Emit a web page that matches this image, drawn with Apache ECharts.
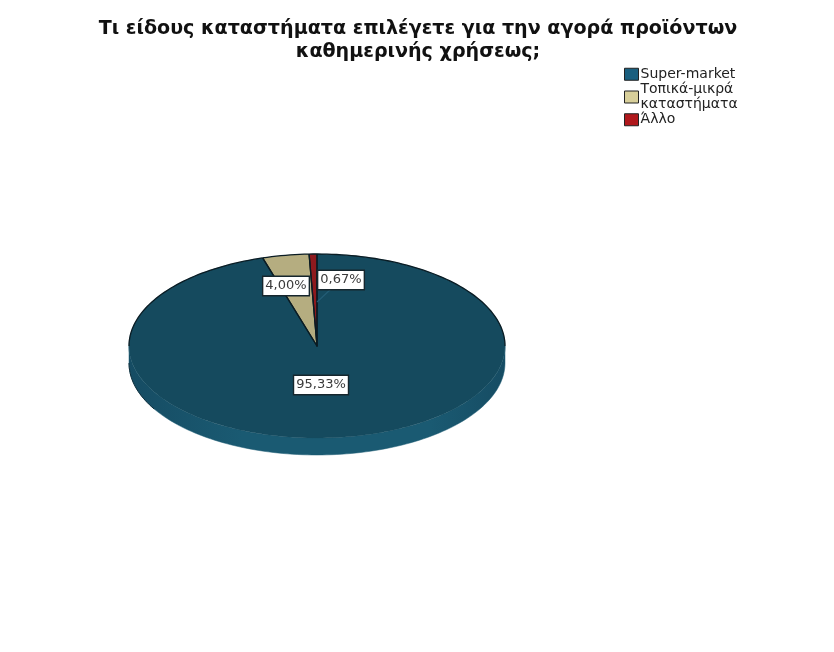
<!DOCTYPE html>
<html><head><meta charset="utf-8">
<style>html,body{margin:0;padding:0;background:#fff}#c{width:834px;height:652px}</style>
<script src="https://cdn.jsdelivr.net/npm/echarts@6/dist/echarts.min.js"></script></head>
<body><div id="c"></div>
<script>
const titleText = 'Τι είδους καταστήματα επιλέγετε για την αγορά προϊόντων\nκαθημερινής χρήσεως;';
const categories = ['Super-market', 'Τοπικά-μικρά\nκαταστήματα', 'Άλλο'];
const shares = [95.33, 4.00, 0.67];
const labelsText = ['95,33%', '4,00%', '0,67%'];
const topColors = ['#154a5e', '#b5ad80', '#8e1a1e'];
const wallColors = ['#1a5a72', '#8f8860', '#6e1416'];
const legendColors = ['#1a5f7f', '#d8cf9a', '#b0181c'];
const labelCenters = [[321, 385], [286, 286], [341, 280]];

const cx = 317, cy = 346, rx = 188, ry = 92, depth = 17;
const edge = '#0a1c24';
const total = shares.reduce((a, b) => a + b, 0);
const pt = (deg, dy) => {
  const a = deg * Math.PI / 180;
  return [cx + rx * Math.sin(a), cy - ry * Math.cos(a) + (dy || 0)];
};
const arc = (from, to, dy) => {
  const out = [];
  const n = Math.max(2, Math.ceil(Math.abs(to - from) / 1.5));
  for (let i = 0; i <= n; i++) out.push(pt(from + (to - from) * i / n, dy));
  return out;
};
function sliceRenderer(index) {
  return function (params, api) {
    const v = api.value(0);
    let before = 0;
    for (let i = 0; i < index; i++) before += shares[i];
    const from = before / total * 360, to = (before + v) / total * 360;
    const kids = [];
    const wf = Math.max(from, 90), wt = Math.min(to, 270);
    if (wt > wf) {
      kids.push({ type: 'polygon', z2: 1,
        shape: { points: arc(wf, wt, 0).concat(arc(wt, wf, depth)) },
        style: { fill: { type: 'linear', x: 0, y: 0, x2: 1, y2: 0, colorStops: [
          { offset: 0, color: '#164c63' }, { offset: 0.3, color: wallColors[index] },
          { offset: 0.8, color: wallColors[index] }, { offset: 1, color: '#164c63' }] },
          stroke: wallColors[index], lineWidth: 0.5 } });
      kids.push({ type: 'polyline', z2: 1,
        shape: { points: arc(270, 240, depth) },
        style: { fill: 'none', stroke: '#0f2d3a', lineWidth: 1 } });
    }
    kids.push({ type: 'polygon', z2: 2,
      shape: { points: [[cx, cy]].concat(arc(from, to, 0)) },
      style: { fill: topColors[index], stroke: topColors[index], lineWidth: 0.3 } });
    const rims = [];
    if (from < 90) rims.push(arc(from, Math.min(to, 90), 0));
    if (to > 270) rims.push(arc(Math.max(from, 270), to, 0));
    rims.forEach(r => kids.push({ type: 'polyline', z2: 3, shape: { points: r },
      style: { fill: 'none', stroke: edge, lineWidth: 1.3 } }));
    kids.push({ type: 'polyline', z2: 3, shape: { points: [pt(from), [cx, cy], pt(to)] },
      style: { fill: 'none', stroke: edge, lineWidth: 1.3, lineJoin: 'round' } });
    return { type: 'group', children: kids };
  };
}
function labelRenderer(index) {
  return function () {
    const c = labelCenters[index];
    const kids = [];
    if (index === 2) kids.push({ type: 'line', z2: 5,
      shape: { x1: cx, y1: 302, x2: c[0] - 10, y2: c[1] + 9 },
      style: { stroke: '#235d75', lineWidth: 1.2 } });
    kids.push({ type: 'text', z2: 6, x: c[0], y: c[1],
      style: { text: labelsText[index], fontFamily: 'DejaVu Sans', fontSize: 13, fill: '#3a3a3a',
        align: 'center', verticalAlign: 'middle', backgroundColor: '#fff',
        borderColor: '#16262d', borderWidth: 1.4, padding: [3, 2, 2, 2] } });
    return { type: 'group', children: kids };
  };
}
const chart = echarts.init(document.getElementById('c'), null, { renderer: 'canvas' });
const series = categories.map((name, i) => ({
  type: 'custom', name, coordinateSystem: 'none', silent: true,
  animation: false, z: 2,
  itemStyle: { color: legendColors[i] },
  data: [[shares[i]]], renderItem: sliceRenderer(i)
}));
const labelSeries = categories.map((name, i) => ({
  type: 'custom', name: 'label-' + i, coordinateSystem: 'none', silent: true,
  animation: false, z: 5, data: [[shares[i]]], renderItem: labelRenderer(i)
}));
chart.setOption({
  animation: false,
  backgroundColor: '#fff',
  title: { text: titleText, left: 413, top: 12, textAlign: 'center',
    textStyle: { fontFamily: 'DejaVu Sans', fontWeight: 'bold', fontSize: 19.1, lineHeight: 23.5, color: '#111' } },
  legend: { orient: 'vertical', left: 619, top: 62, itemGap: 1, itemWidth: 14, itemHeight: 12,
    icon: 'rect', data: categories, selectedMode: false,
    itemStyle: { borderColor: '#222', borderWidth: 1 },
    textStyle: { fontFamily: 'DejaVu Sans', fontSize: 14, lineHeight: 14.5, color: '#222', padding: [0, 0, 0, -3] } },
  series: series.concat(labelSeries)
});
</script></body></html>
